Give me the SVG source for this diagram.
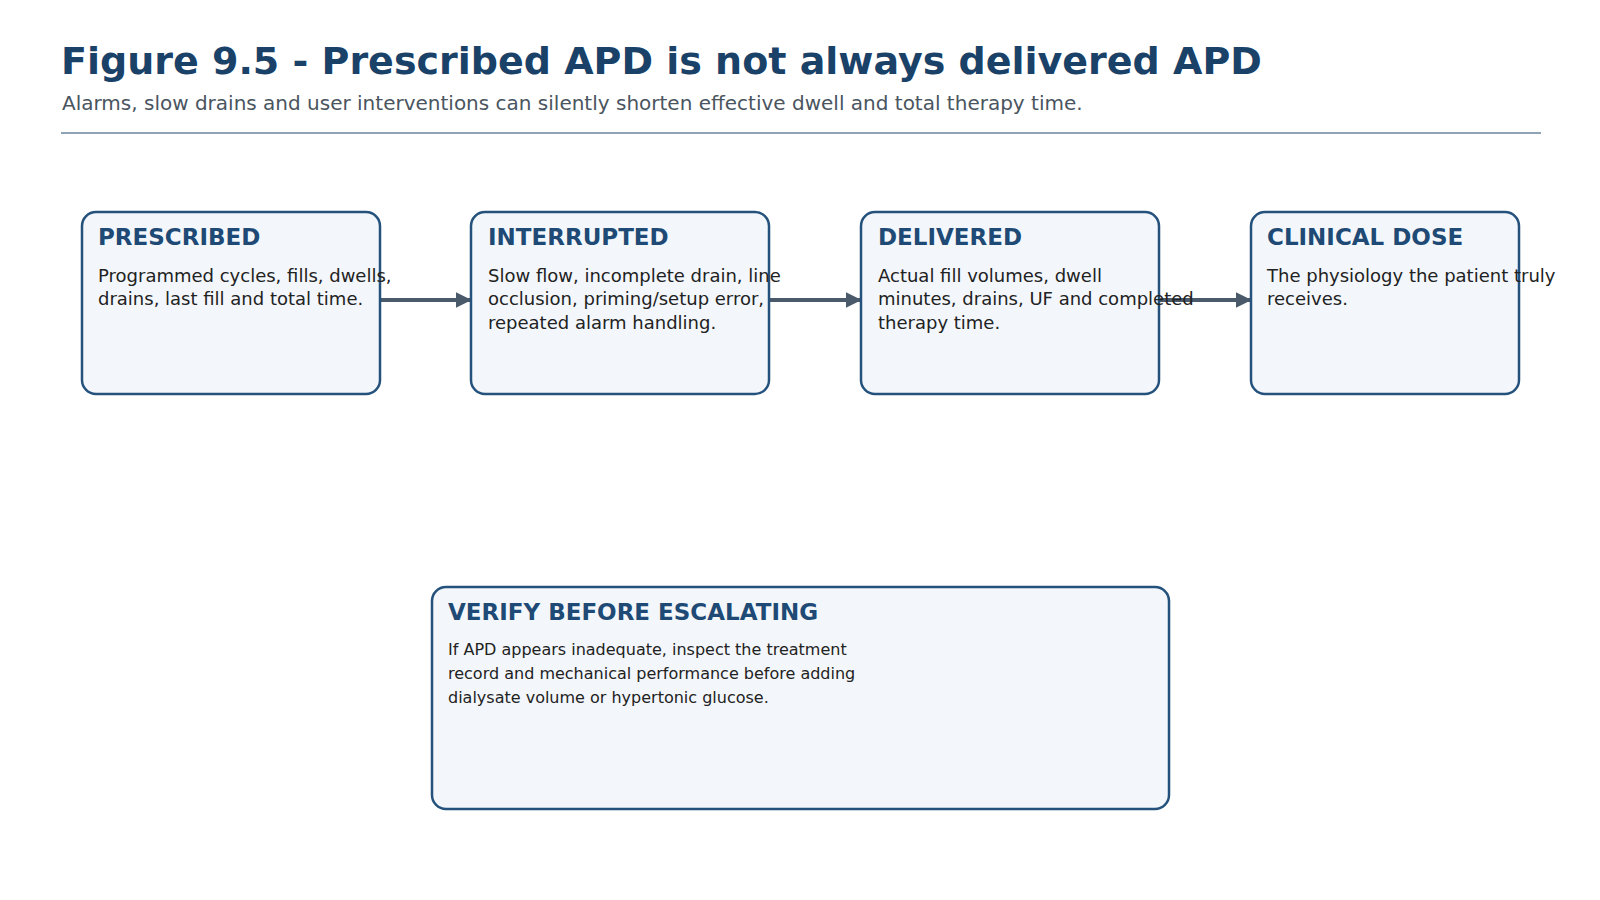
<svg xmlns="http://www.w3.org/2000/svg" width="1600" height="900" viewBox="0 0 1600 900">
<style>
.box{fill:#f3f7fb;stroke:#24527d;stroke-width:2.5}
.t{font-family:"DejaVu Sans",sans-serif;font-weight:bold;font-size:23px;fill:#1e4a75}
.b{font-family:"DejaVu Sans",sans-serif;font-size:18px;fill:#222}
.s{font-family:"DejaVu Sans",sans-serif;font-size:16px;fill:#222}
.c{stroke:#4a5a6a;stroke-width:4;fill:none;marker-end:url(#ah)}
</style>
<defs><marker id="ah" viewBox="0 0 10 10" refX="9" refY="5" markerWidth="4" markerHeight="4" orient="auto"><path d="M0,0L10,5L0,10z" fill="#4a5a6a"/></marker></defs>
<rect width="1600" height="900" fill="#fff"/>
<text x="61" y="74" font-family="DejaVu Sans,sans-serif" font-weight="bold" font-size="38" fill="#1a4268">Figure 9.5 - Prescribed APD is not always delivered APD</text>
<text x="62" y="110" font-family="DejaVu Sans,sans-serif" font-size="20" fill="#4a5560">Alarms, slow drains and user interventions can silently shorten effective dwell and total therapy time.</text>
<line x1="61" y1="133" x2="1541" y2="133" stroke="#8fa3b5" stroke-width="2"/>
<g id="connectors">
<line class="c" x1="380" y1="300" x2="470" y2="300"/>
<line class="c" x1="769" y1="300" x2="860" y2="300"/>
<line class="c" x1="1159" y1="300" x2="1250" y2="300"/>
</g>
<g id="prescribed"><rect class="box" x="82" y="212" width="298" height="182" rx="14"/>
<text class="t" x="98" y="245">PRESCRIBED</text>
<text class="b" x="98" y="282">Programmed cycles, fills, dwells,</text>
<text class="b" x="98" y="305">drains, last fill and total time.</text></g>
<g id="interrupted"><rect class="box" x="471" y="212" width="298" height="182" rx="14"/>
<text class="t" x="488" y="245">INTERRUPTED</text>
<text class="b" x="488" y="282">Slow flow, incomplete drain, line</text>
<text class="b" x="488" y="305">occlusion, priming/setup error,</text>
<text class="b" x="488" y="329">repeated alarm handling.</text></g>
<g id="delivered"><rect class="box" x="861" y="212" width="298" height="182" rx="14"/>
<text class="t" x="878" y="245">DELIVERED</text>
<text class="b" x="878" y="282">Actual fill volumes, dwell</text>
<text class="b" x="878" y="305">minutes, drains, UF and completed</text>
<text class="b" x="878" y="329">therapy time.</text></g>
<g id="clinical"><rect class="box" x="1251" y="212" width="268" height="182" rx="14"/>
<text class="t" x="1267" y="245">CLINICAL DOSE</text>
<text class="b" x="1267" y="282">The physiology the patient truly</text>
<text class="b" x="1267" y="305">receives.</text></g>
<g id="verify"><rect class="box" x="432" y="587" width="737" height="222" rx="14"/>
<text class="t" x="448" y="620">VERIFY BEFORE ESCALATING</text>
<text class="s" x="448" y="655">If APD appears inadequate, inspect the treatment</text>
<text class="s" x="448" y="679">record and mechanical performance before adding</text>
<text class="s" x="448" y="703">dialysate volume or hypertonic glucose.</text></g>
</svg>
